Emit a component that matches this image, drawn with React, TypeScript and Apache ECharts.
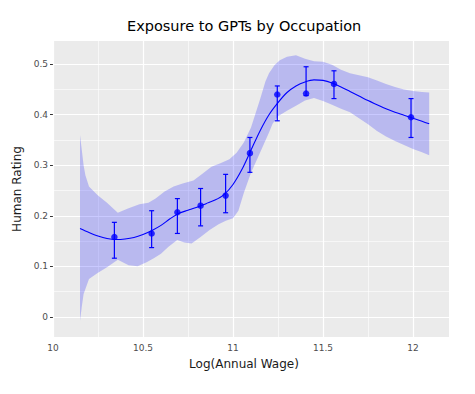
import React, { useEffect, useRef } from 'react';
import * as echarts from 'echarts';

// Binned means with error bars
const pointX = [10.341, 10.548, 10.691, 10.82, 10.959, 11.094, 11.246, 11.406, 11.561, 11.989];
const pointY = [0.158, 0.165, 0.207, 0.22, 0.24, 0.324, 0.44, 0.442, 0.461, 0.395];
const errLow = [0.116, 0.137, 0.165, 0.18, 0.206, 0.286, 0.388, 0.438, 0.432, 0.355];
const errHigh = [0.187, 0.21, 0.234, 0.254, 0.282, 0.355, 0.457, 0.495, 0.487, 0.432];

// Smoothed fit
const fitX = [10.15, 10.2, 10.25, 10.3, 10.35, 10.4, 10.45, 10.5, 10.55, 10.6, 10.65, 10.7, 10.75, 10.8, 10.85, 10.9, 10.95, 11.0, 11.05, 11.1, 11.15, 11.2, 11.25, 11.3, 11.35, 11.4, 11.45, 11.5, 11.55, 11.6, 11.65, 11.7, 11.75, 11.8, 11.85, 11.9, 11.95, 12.0, 12.05, 12.09];
const fitY = [0.175, 0.167, 0.16, 0.155, 0.153, 0.154, 0.157, 0.163, 0.171, 0.181, 0.194, 0.205, 0.211, 0.217, 0.224, 0.231, 0.242, 0.262, 0.292, 0.33, 0.368, 0.4, 0.424, 0.444, 0.457, 0.465, 0.469, 0.468, 0.463, 0.455, 0.446, 0.437, 0.428, 0.42, 0.412, 0.405, 0.399, 0.393, 0.387, 0.382];

// Confidence band
const upperX = [10.15, 10.16, 10.17, 10.18, 10.2, 10.25, 10.3, 10.36, 10.42, 10.48, 10.53, 10.57, 10.62, 10.67, 10.72, 10.78, 10.83, 10.88, 10.93, 10.98, 11.02, 11.06, 11.1, 11.15, 11.18, 11.2, 11.23, 11.26, 11.3, 11.35, 11.4, 11.45, 11.5, 11.55, 11.6, 11.65, 11.7, 11.75, 11.8, 11.85, 11.9, 11.95, 12.0, 12.05, 12.09];
const upperY = [0.36, 0.33, 0.3, 0.28, 0.258, 0.24, 0.226, 0.206, 0.215, 0.223, 0.226, 0.234, 0.248, 0.258, 0.264, 0.27, 0.283, 0.297, 0.304, 0.312, 0.325, 0.345, 0.375, 0.43, 0.466, 0.482, 0.498, 0.508, 0.515, 0.518, 0.511, 0.506, 0.505, 0.499, 0.489, 0.482, 0.478, 0.474, 0.468, 0.461, 0.455, 0.45, 0.447, 0.445, 0.444];
const lowerX = [10.15, 10.16, 10.17, 10.2, 10.25, 10.3, 10.36, 10.42, 10.47, 10.52, 10.56, 10.6, 10.64, 10.69, 10.73, 10.77, 10.82, 10.87, 10.92, 10.96, 11.0, 11.03, 11.06, 11.1, 11.15, 11.2, 11.22, 11.25, 11.3, 11.35, 11.4, 11.45, 11.5, 11.55, 11.6, 11.65, 11.7, 11.75, 11.8, 11.85, 11.9, 11.95, 12.0, 12.05, 12.09];
const lowerY = [-0.008, 0.02, 0.045, 0.075, 0.087, 0.098, 0.113, 0.102, 0.1, 0.108, 0.116, 0.125, 0.138, 0.152, 0.147, 0.145, 0.158, 0.172, 0.183, 0.19, 0.195, 0.21, 0.245, 0.285, 0.325, 0.365, 0.382, 0.397, 0.408, 0.418, 0.428, 0.433, 0.427, 0.42, 0.412, 0.405, 0.393, 0.381, 0.368, 0.357, 0.348, 0.34, 0.332, 0.326, 0.32];

// Axis breaks
const xTicks = [10, 10.5, 11, 11.5, 12];
const xMinor = [10.25, 10.75, 11.25, 11.75];
const yTicks = [0, 0.1, 0.2, 0.3, 0.4, 0.5];
const yMinor = [0.05, 0.15, 0.25, 0.35, 0.45];

const BLUE = '#0000ff';

export default function App() {
  const ref = useRef<HTMLDivElement>(null);
  useEffect(() => {
    if (!ref.current) return;
    const chart = echarts.init(ref.current, undefined, { renderer: 'svg' });
    const gridLines = [
      ...xTicks.map((v) => ({ xAxis: v, lineStyle: { width: 1.2 } })),
      ...xMinor.map((v) => ({ xAxis: v, lineStyle: { width: 0.6 } })),
      ...yTicks.map((v) => ({ yAxis: v, lineStyle: { width: 1.2 } })),
      ...yMinor.map((v) => ({ yAxis: v, lineStyle: { width: 0.6 } })),
    ];
    const option: any = {
      animation: false,
      title: {
        text: 'Exposure to GPTs by Occupation',
        left: 127,
        top: 18,
        padding: 0,
        textStyle: { fontFamily: 'DejaVu Sans', fontSize: 14.5, fontWeight: 'normal', color: '#000' },
      },
      grid: {
        left: 53, top: 41, right: 26, bottom: 57,
        show: true, backgroundColor: '#ebebeb', borderWidth: 0,
      },
      xAxis: {
        type: 'value', min: 10, max: 12.2,
        name: 'Log(Annual Wage)', nameLocation: 'middle', nameGap: 21,
        nameTextStyle: { fontFamily: 'DejaVu Sans', fontSize: 12, color: '#1a1a1a', padding: [0, 14, 0, 0] },
        axisLine: { show: false },
        axisTick: { show: true, length: 3, customValues: xTicks, lineStyle: { color: '#333', width: 1 } },
        axisLabel: { customValues: xTicks, margin: 6, fontFamily: 'DejaVu Sans', fontSize: 9, color: '#4d4d4d' },
        splitLine: { show: false },
      },
      yAxis: {
        type: 'value', min: -0.04, max: 0.546,
        name: 'Human Rating', nameLocation: 'middle', nameGap: 22, nameRotate: 90,
        nameTextStyle: { fontFamily: 'DejaVu Sans', fontSize: 12, color: '#1a1a1a' },
        axisLine: { show: false },
        axisTick: { show: true, length: 3, customValues: yTicks, lineStyle: { color: '#333', width: 1 } },
        axisLabel: { customValues: yTicks, margin: 5, fontFamily: 'DejaVu Sans', fontSize: 9, color: '#4d4d4d' },
        splitLine: { show: false },
      },
      series: [
        {
          type: 'line', data: [], silent: true,
          markLine: {
            silent: true, symbol: ['none', 'none'], z: 1,
            label: { show: false },
            lineStyle: { color: '#ffffff', type: 'solid' },
            emphasis: { disabled: true },
            data: gridLines,
          },
        },
        {
          type: 'custom', z: 2, silent: true,
          data: [[upperX[0], upperY[0]]],
          renderItem: (params: any, api: any) => {
            if (params.dataIndex !== 0) return null;
            const pts: number[][] = [];
            for (let i = 0; i < upperX.length; i++) pts.push(api.coord([upperX[i], upperY[i]]));
            for (let i = lowerX.length - 1; i >= 0; i--) pts.push(api.coord([lowerX[i], lowerY[i]]));
            return { type: 'polygon', shape: { points: pts }, style: { fill: 'rgba(0,0,255,0.21)', stroke: 'none' } };
          },
        },
        {
          type: 'line', z: 3, silent: true, showSymbol: false, smooth: 0.3,
          data: fitX.map((x, i) => [x, fitY[i]]),
          lineStyle: { color: BLUE, width: 1.1 },
        },
        {
          type: 'custom', z: 4, silent: true,
          data: pointX.map((x, i) => [x, errLow[i], errHigh[i]]),
          renderItem: (params: any, api: any) => {
            const x = api.value(0);
            const lo = api.coord([x, api.value(1)]);
            const hi = api.coord([x, api.value(2)]);
            const w = 2.5;
            const st = { stroke: BLUE, lineWidth: 1.2 };
            return {
              type: 'group',
              children: [
                { type: 'line', shape: { x1: lo[0], y1: lo[1], x2: hi[0], y2: hi[1] }, style: st },
                { type: 'line', shape: { x1: lo[0] - w, y1: lo[1], x2: lo[0] + w, y2: lo[1] }, style: st },
                { type: 'line', shape: { x1: hi[0] - w, y1: hi[1], x2: hi[0] + w, y2: hi[1] }, style: st },
              ],
            };
          },
        },
        {
          type: 'scatter', z: 5, silent: true, symbol: 'circle', symbolSize: 6.5,
          data: pointX.map((x, i) => [x, pointY[i]]),
          itemStyle: { color: BLUE },
        },
      ],
    };
    chart.setOption(option);
    return () => chart.dispose();
  }, []);
  return <div ref={ref} style={{ position: 'fixed', left: 0, top: 0, width: 475, height: 394, background: '#fff' }} />;
}
